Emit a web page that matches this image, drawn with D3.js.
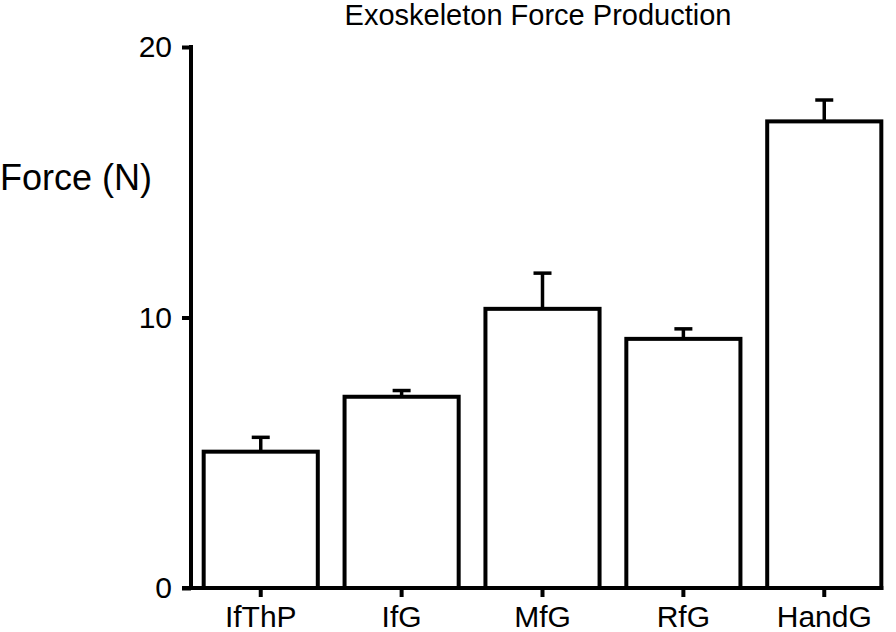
<!DOCTYPE html>
<html>
<head>
<meta charset="utf-8">
<script src="https://cdn.jsdelivr.net/npm/d3@7"></script>
<style>
  body { margin: 0; background: #fff; }
  text { font-family: "Liberation Sans", Arial, sans-serif; fill: #000; }
</style>
</head>
<body>
<svg id="chart"></svg>
<script>
// Chart data
const categories = ['IfThP', 'IfG', 'MfG', 'RfG', 'HandG'];
const means = [5.04, 7.07, 10.32, 9.21, 17.25];
const errors = [0.53, 0.23, 1.32, 0.37, 0.79];
const yTicks = [0, 10, 20];

const data = categories.map((c, i) => ({ name: c, mean: means[i], err: errors[i] }));

const width = 896, height = 632;
const margin = { top: 47, right: 2, bottom: 44, left: 191 };

const svg = d3.select('#chart')
  .attr('width', width)
  .attr('height', height);

const x = d3.scaleBand()
  .domain(categories)
  .range([margin.left, width - margin.right])
  .paddingInner(0.19)
  .paddingOuter(0.09);

const y = d3.scaleLinear()
  .domain([0, 20])
  .range([height - margin.bottom, margin.top]);

// Bars
svg.append('g')
  .selectAll('rect')
  .data(data)
  .join('rect')
  .attr('x', d => x(d.name))
  .attr('y', d => y(d.mean))
  .attr('width', x.bandwidth())
  .attr('height', d => y(0) - y(d.mean))
  .attr('fill', '#fff')
  .attr('stroke', '#000')
  .attr('stroke-width', 4);

// Error bars (upper only)
const eb = svg.append('g').attr('stroke', '#000').attr('stroke-width', 3.5);
eb.selectAll('line.stem')
  .data(data)
  .join('line')
  .attr('class', 'stem')
  .attr('x1', d => x(d.name) + x.bandwidth() / 2)
  .attr('x2', d => x(d.name) + x.bandwidth() / 2)
  .attr('y1', d => y(d.mean))
  .attr('y2', d => y(d.mean + d.err));
eb.selectAll('line.cap')
  .data(data)
  .join('line')
  .attr('class', 'cap')
  .attr('x1', d => x(d.name) + x.bandwidth() / 2 - 9)
  .attr('x2', d => x(d.name) + x.bandwidth() / 2 + 9)
  .attr('y1', d => y(d.mean + d.err))
  .attr('y2', d => y(d.mean + d.err));

// Y axis
const yAxisG = svg.append('g')
  .attr('transform', `translate(${margin.left},0)`)
  .call(d3.axisLeft(y).tickValues(yTicks).tickSize(9).tickPadding(10).tickFormat(d3.format('d')));
yAxisG.select('.domain').remove();
yAxisG.selectAll('.tick line').attr('stroke', '#000').attr('stroke-width', 4);
yAxisG.selectAll('.tick text').style('font-size', '30px');
svg.append('line')
  .attr('x1', margin.left).attr('x2', margin.left)
  .attr('y1', y(20) - 2).attr('y2', y(0))
  .attr('stroke', '#000').attr('stroke-width', 4);

// X axis
const xAxisG = svg.append('g')
  .attr('transform', `translate(0,${y(0)})`)
  .call(d3.axisBottom(x).tickSize(9).tickPadding(9));
xAxisG.select('.domain').remove();
xAxisG.selectAll('.tick line').attr('stroke', '#000').attr('stroke-width', 4);
xAxisG.selectAll('.tick text').style('font-size', '30px');
svg.append('line')
  .attr('x1', margin.left - 9)
  .attr('x2', x(categories[categories.length - 1]) + x.bandwidth() + 2)
  .attr('y1', y(0)).attr('y2', y(0))
  .attr('stroke', '#000').attr('stroke-width', 4);

// Titles
svg.append('text')
  .attr('x', 538)
  .attr('y', 25)
  .attr('text-anchor', 'middle')
  .style('font-size', '29px')
  .text('Exoskeleton Force Production');

svg.append('text')
  .attr('x', 0)
  .attr('y', 190)
  .style('font-size', '36px')
  .text('Force (N)');
</script>
</body>
</html>
